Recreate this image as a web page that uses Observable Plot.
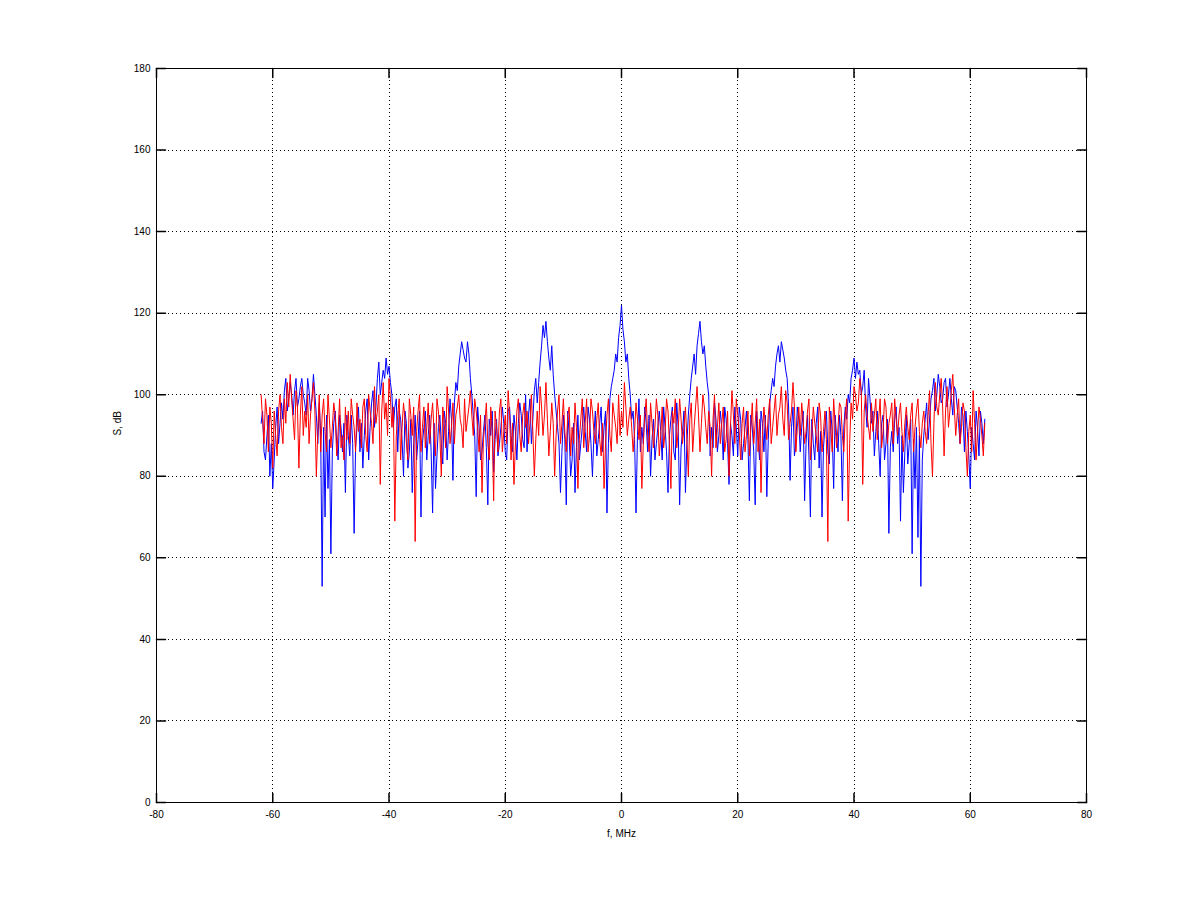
<!DOCTYPE html>
<html>
<head>
<meta charset="utf-8">
<script src="https://cdn.jsdelivr.net/npm/d3@7"></script>
<script src="https://cdn.jsdelivr.net/npm/@observablehq/plot@0.6"></script>
<style>
  html, body { margin: 0; padding: 0; background: #ffffff; }
  #chart svg { display: block; }
</style>
</head>
<body>
<div id="chart"></div>
<script>
// Frequency grid of the spectrum samples (MHz): main samples every 0.5 MHz,
// plus in-between samples read at +0.25 MHz
const freqStart = -62;
const freqStep = 0.5;

// Blue spectrum, S (dB), main samples
const blueS = [
  93,86,90,80,77, 92,88,98,101,96, 103,95,104,99,104, 98,104,96,105,95, 98,53,70,77,61, 93,88,95,86,76,
  90,95,66,92,86, 82,96,84,98,92, 104,100,106,109,107, 100,97,86,94,80, 93,86,76,95,89, 70,92,84,95,71, 77,92,
  88,96,84,99,79, 103,107,113,109,113, 104,95,75,92,86, 95,73,90,81,94, 88,97,86,96,90, 95,84,98,89,100,
  95,88,101,98,108, 117,118,109,112,100, 92,76,95,73,90, 84,76,95,88,97, 86,94,80,96,89, 97,92,71,99,104, 110,114,
  122,113,110,100,96, 71,99,92,97,86, 80,94,88,96,84, 92,76,94,86,98, 73,91,76,95,104, 110,112,118,110,107, 100,
  92,98,86,96,84, 94,78,90,97,85, 94,88,96,74,92, 73,90,96,86,75, 98,104,107,112,113, 109,104,79,97,88, 94,
  92,74,95,70,88, 93,82,70,92,86, 96,77,90,95,74, 97,100,104,109,108, 106,102,97,104,93, 85,96,80,95,88, 66,91,
  94,88,69,76,95, 88,61,77,65,53, 90,98,94,101,96, 105,98,103,97,104, 95,101,93,97,86, 91,77,88,96,85, 93,94
];
// Blue spectrum, in-between samples (+0.25 MHz)
const blueMid = [
  96,84,95,88,84, 97,93,94,104,99, 100,101,97,102,100, 95,101,99,100,88, 90,92,95,89,86, 96,84,92,93,
  95,
  85,88,87,97,93, 90,99,92,101,97, 108,103,104,105,103, 92,99,96,89,96, 82,94,88,84,96, 88,96,90,86,93, 85,
  95,
  83,93,91,94,98, 101,110,111,108,110, 100,90,97,84,91, 87,94,96,89,85, 92,93,84,97,86, 91,93,95,87,
  86,
  99,94,104,103,112, 114,113,106,105,96, 88,86,89,96,80, 93,87,84,92,91, 97,88,90,85,93, 86,96,88,102,106, 108,
  117,
  116,108,104,94,89, 90,86,88,93,95, 89,84,92,91,97, 86,90,97,84,92, 87,96,88,100,107, 105,115,113,112,103,
  85,
  87,94,90,92,97, 88,93,85,92,97, 84,92,89,95,86, 96,84,93,95,89, 101,102,110,108,111, 106,97,92,85,97,
  86,
  96,88,85,94,84, 97,91,87,96,83, 91,95,86,90,92, 94,98,106,104,105, 100,106,92,99,96, 91,88,93,84,94, 87,
  86,
  97,92,90,86,83, 94,89,92,90,84, 94,89,99,104,100, 102,99,104,100,99, 102,97,88,95,96, 85,92,84,92,96, 88
];

// Red spectrum, S (dB), main samples
const redS = [
  100,88,95,97,82, 90,96,92,99,103, 105,94,101,82,102, 96,100,95,103,80, 100,95,91,100,87, 98,85,99,90,97,
  96,99,92,98,94, 97,90,100,93,102, 96,78,103,98,104, 92,69,95,84,98, 88,99,90,64,96, 86,97,92,88,98, 85,96,
  80,93,102,88,98, 95,100,92,99,94, 101,90,96,86,76, 93,88,97,74,92, 96,86,95,101,84, 78,96,90,95,92,
  88,100,80,96,102, 90,103,85,98,80, 96,88,99,86,97, 92,98,77,94,87, 99,90,96,88,98, 85,77,95,90,98, 92,100,
  96,103,90,97,86, 98,89,77,95,90, 98,87,99,85,97, 91,96,77,93,87, 99,88,97,80,98, 92,102,86,100,92, 96,
  80,100,92,88,97, 89,80,101,88,95, 84,97,90,85,98, 93,86,76,97,89, 99,92,100,95,102, 90,98,93,103,86, 97,
  98,88,96,84,97, 90,98,86,96,64, 92,99,87,98,90, 95,69,98,102,96, 104,78,100,92,98, 95,89,99,91,97, 93,98,
  99,90,98,86,97, 89,98,92,99,87, 96,88,101,80,103, 95,104,85,102,96, 105,90,99,92,96, 80,95,101,84,97, 90,93
];
// Red spectrum, in-between samples (+0.25 MHz)
const redMid = [
  94,99,86,93,96, 85,100,88,93,97, 99,89,97,95,90, 92,88,99,96,91, 86,99,86,94,92, 95,91,87,84,
  89,
  88,95,86,91,87, 99,86,96,88,93, 100,96,94,90,99, 97,90,99,92,94, 84,95,97,91,100, 92,87,98,94,91, 99,
  90,
  97,87,96,92,88, 97,94,87,91,97, 95,99,92,95,89, 98,84,92,96,86, 99,91,88,95,93, 88,99,86,98,
  96,
  93,91,89,90,97, 95,94,91,93,90, 100,93,91,95,85, 88,92,89,99,93, 86,99,91,94,89, 93,88,99,86,95, 88,
  90,
  92,97,94,92,91, 94,95,88,99,86, 93,92,95,90,87, 99,88,96,99,91, 94,92,89,94,86, 97,95,93,97,88,
  92,
  94,87,98,93,86, 96,92,95,99,91, 93,86,96,92,88, 99,94,90,93,95, 88,96,90,97,94, 101,89,96,97,92,
  90,
  94,91,99,90,93, 86,95,91,89,97, 86,93,92,97,86, 99,88,94,100,98, 101,96,95,89,91, 99,94,87,99,88, 95,
  88,
  94,95,91,93,92, 95,86,96,91,93, 91,95,88,93,97, 100,97,96,92,101, 97,95,88,98,87, 91,86,93,91,94, 85
];

// Axis ticks and labels
const xTicks = [-80, -60, -40, -20, 0, 20, 40, 60, 80];
const yTicks = [0, 20, 40, 60, 80, 100, 120, 140, 160, 180];
const xGridTicks = [-60, -40, -20, 0, 20, 40, 60];
const yGridTicks = [20, 40, 60, 80, 100, 120, 140, 160];
const xLabel = "f, MHz";
const yLabel = "S, dB";

function buildRows(main, mid) {
  const rows = [];
  main.forEach((s, i) => {
    rows.push({f: freqStart + i * freqStep, s});
    if (i < mid.length) rows.push({f: freqStart + i * freqStep + freqStep / 2, s: mid[i]});
  });
  return rows;
}
const blueRows = buildRows(blueS, blueMid);
const redRows = buildRows(redS, redMid);

// inward tick shapes
const tickUp = {draw(c, l) { c.moveTo(0, 0); c.lineTo(0, -l); }};
const tickDown = {draw(c, l) { c.moveTo(0, 0); c.lineTo(0, l); }};
const tickRight = {draw(c, l) { c.moveTo(0, 0); c.lineTo(l, 0); }};
const tickLeft = {draw(c, l) { c.moveTo(0, 0); c.lineTo(-l, 0); }};
const tickLen = 9;
const fmt = d => String(d);

const chart = Plot.plot({
  width: 1200,
  height: 901,
  marginLeft: 156,
  marginRight: 114,
  marginTop: 68,
  marginBottom: 99,
  style: {fontFamily: "'Liberation Sans', Arial, sans-serif", fontSize: "10px", background: "#ffffff", color: "#000000"},
  x: {domain: [-80, 80], label: null},
  y: {domain: [0, 180], label: null},
  marks: [
    Plot.gridX(xGridTicks, {stroke: "#000000", strokeOpacity: 1, strokeDasharray: "1,3", shapeRendering: "crispEdges"}),
    Plot.gridY(yGridTicks, {stroke: "#000000", strokeOpacity: 1, strokeDasharray: "1,3", shapeRendering: "crispEdges"}),
    Plot.line(blueRows, {x: "f", y: "s", stroke: "#0000ff", strokeWidth: 1}),
    Plot.line(redRows, {x: "f", y: "s", stroke: "#ff0000", strokeWidth: 1}),
    Plot.frame({stroke: "#000000", shapeRendering: "crispEdges"}),
    Plot.vector(xTicks, {x: d => d, frameAnchor: "bottom", anchor: "start", length: tickLen, shape: tickUp, stroke: "#000000"}),
    Plot.vector(xTicks, {x: d => d, frameAnchor: "top", anchor: "start", length: tickLen, shape: tickDown, stroke: "#000000"}),
    Plot.vector(yTicks, {y: d => d, frameAnchor: "left", anchor: "start", length: tickLen, shape: tickRight, stroke: "#000000"}),
    Plot.vector(yTicks, {y: d => d, frameAnchor: "right", anchor: "start", length: tickLen, shape: tickLeft, stroke: "#000000"}),
    Plot.axisX(xTicks, {anchor: "bottom", tickSize: 0, tickPadding: 8, label: null, tickFormat: fmt, fill: "#000000"}),
    Plot.axisY(yTicks, {anchor: "left", tickSize: 0, tickPadding: 6, label: null, tickFormat: fmt, fill: "#000000"}),
    Plot.text([xLabel], {frameAnchor: "bottom", dy: 34, fill: "#000000"}),
    Plot.text([yLabel], {frameAnchor: "left", dx: -39, rotate: -90, fill: "#000000"})
  ]
});

document.getElementById("chart").appendChild(chart);
</script>
</body>
</html>
